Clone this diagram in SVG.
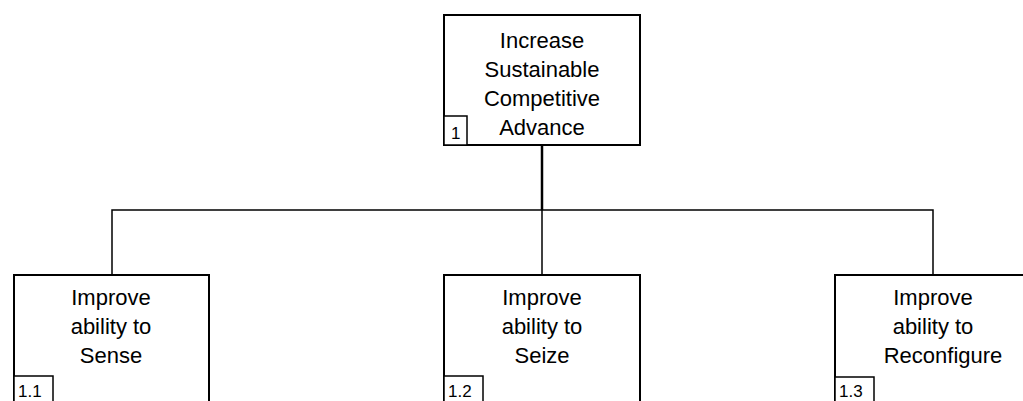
<svg xmlns="http://www.w3.org/2000/svg" width="1023" height="401" viewBox="0 0 1023 401">
  <style>
    .box { fill: #ffffff; stroke: #000000; stroke-width: 2; }
    .tag { fill: #ffffff; stroke: #000000; stroke-width: 1.5; }
    .lbl { font-family: "Liberation Sans", Arial, sans-serif; font-size: 22px; fill: #000000; text-anchor: middle; }
    .num { font-family: "Liberation Sans", Arial, sans-serif; font-size: 17px; fill: #000000; }
    .wire { fill: none; stroke: #000000; stroke-width: 1.5; }
  </style>
  <rect width="1023" height="401" fill="#ffffff"/>

  <!-- tree connectors -->
  <g id="connectors">
    <line class="wire" x1="542" y1="145" x2="542" y2="210" style="stroke-width:2.5"/>
    <polyline class="wire" points="112,275 112,210 933,210 933,275"/>
    <line class="wire" x1="542" y1="210" x2="542" y2="275"/>
  </g>

  <!-- root goal -->
  <g id="node-1">
    <rect class="box" x="444" y="15" width="196" height="130"/>
    <text class="lbl" x="542" y="48">Increase</text>
    <text class="lbl" x="542" y="77">Sustainable</text>
    <text class="lbl" x="542" y="106">Competitive</text>
    <text class="lbl" x="542" y="135">Advance</text>
    <rect class="tag" x="444" y="116" width="23" height="29"/>
    <text class="num" x="451" y="139">1</text>
  </g>

  <!-- sub-goals -->
  <g id="node-1-1">
    <rect class="box" x="14" y="275" width="195" height="140"/>
    <text class="lbl" x="111" y="305">Improve</text>
    <text class="lbl" x="111" y="334">ability to</text>
    <text class="lbl" x="111" y="363">Sense</text>
    <rect class="tag" x="14" y="376" width="39" height="40"/>
    <text class="num" x="18" y="397">1.1</text>
  </g>

  <g id="node-1-2">
    <rect class="box" x="444" y="275" width="196" height="140"/>
    <text class="lbl" x="542" y="305">Improve</text>
    <text class="lbl" x="542" y="334">ability to</text>
    <text class="lbl" x="542" y="363">Seize</text>
    <rect class="tag" x="444" y="376" width="39" height="40"/>
    <text class="num" x="448" y="397">1.2</text>
  </g>

  <g id="node-1-3">
    <rect class="box" x="835" y="275" width="196" height="140"/>
    <text class="lbl" x="933" y="305">Improve</text>
    <text class="lbl" x="933" y="334">ability to</text>
    <text class="lbl" x="943" y="363">Reconfigure</text>
    <rect class="tag" x="835" y="377" width="39" height="40"/>
    <text class="num" x="839" y="397">1.3</text>
  </g>
</svg>
